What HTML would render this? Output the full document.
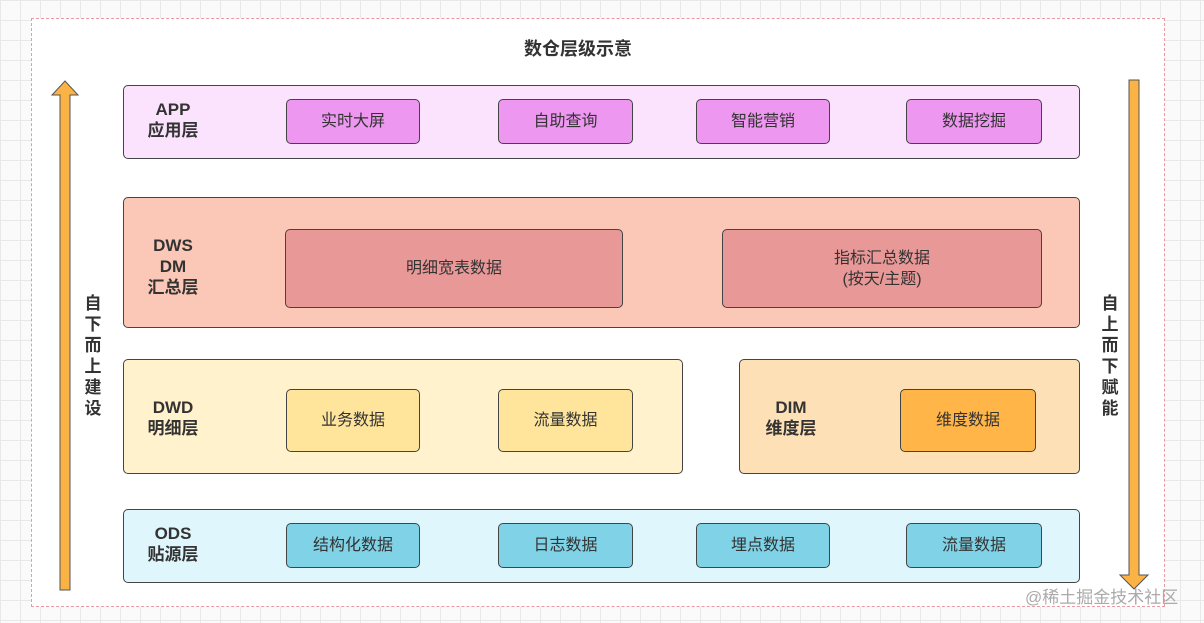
<!DOCTYPE html>
<html><head><meta charset="utf-8"><style>
*{margin:0;padding:0;box-sizing:border-box}
body{width:1204px;height:623px;position:relative;overflow:hidden;font-family:"Liberation Sans","Noto Sans CJK SC",sans-serif;color:#333;
background-color:#fafafa;background-image:linear-gradient(#e8e8e8 1px,transparent 1px),linear-gradient(90deg,#e8e8e8 1px,transparent 1px);background-size:20px 20px}
.a{position:absolute}
.frame{left:31px;top:18px;width:1134px;height:589px;background:#fff;border:1px dashed #e89aa3}
.layer{position:absolute;border:1.5px solid #444;border-radius:5px}
.box{position:absolute;border:1.5px solid #444;border-radius:5px;display:flex;align-items:center;justify-content:center;font-size:16px;text-align:center;line-height:21px;color:#333}
.lbl{position:absolute;font-size:17px;font-weight:bold;text-align:center;line-height:21px;color:#333;width:100px}
.vt{position:absolute;font-size:17px;font-weight:bold;width:20px;line-height:21px;text-align:center;color:#333}
</style></head><body>
<div class="a frame"></div>
<div class="a" style="left:478px;top:35px;width:200px;text-align:center;font-size:18px;font-weight:bold;color:#333">数仓层级示意</div>
<svg class="a" style="left:0;top:0" width="1204" height="623">
<path d="M60,95 L52,95 L65,81 L78,95 L70,95 L70,590 L60,590 Z" fill="#fbb345" stroke="#555" stroke-width="1"/>
<path d="M1129,80 L1139,80 L1139,575 L1148,575 L1134,589 L1120,575 L1129,575 Z" fill="#fbb345" stroke="#555" stroke-width="1"/>
</svg>
<div class="vt" style="left:83px;top:293px">自下而上建设</div>
<div class="vt" style="left:1100px;top:293px">自上而下赋能</div>

<div class="layer" style="left:123px;top:85px;width:957px;height:74px;background:#fce3fd"></div>
<div class="lbl" style="left:123px;top:99px">APP<br>应用层</div>
<div class="box" style="left:286px;top:99px;width:134px;height:45px;background:#ee97f1">实时大屏</div>
<div class="box" style="left:498px;top:99px;width:135px;height:45px;background:#ee97f1">自助查询</div>
<div class="box" style="left:696px;top:99px;width:134px;height:45px;background:#ee97f1">智能营销</div>
<div class="box" style="left:906px;top:99px;width:136px;height:45px;background:#ee97f1">数据挖掘</div>

<div class="layer" style="left:123px;top:197px;width:957px;height:131px;background:#fbc8b7"></div>
<div class="lbl" style="left:123px;top:235px">DWS<br>DM<br>汇总层</div>
<div class="box" style="left:285px;top:229px;width:338px;height:79px;background:#e99898">明细宽表数据</div>
<div class="box" style="left:722px;top:229px;width:320px;height:79px;background:#e99898">指标汇总数据<br>(按天/主题)</div>

<div class="layer" style="left:123px;top:359px;width:560px;height:115px;background:#fff2cc"></div>
<div class="lbl" style="left:123px;top:397px">DWD<br>明细层</div>
<div class="box" style="left:286px;top:389px;width:134px;height:63px;background:#ffe59b">业务数据</div>
<div class="box" style="left:498px;top:389px;width:135px;height:63px;background:#ffe59b">流量数据</div>

<div class="layer" style="left:739px;top:359px;width:341px;height:115px;background:#fde0b6"></div>
<div class="lbl" style="left:741px;top:397px">DIM<br>维度层</div>
<div class="box" style="left:900px;top:389px;width:136px;height:63px;background:#ffb547">维度数据</div>

<div class="layer" style="left:123px;top:509px;width:957px;height:74px;background:#dff6fd"></div>
<div class="lbl" style="left:123px;top:523px">ODS<br>贴源层</div>
<div class="box" style="left:286px;top:523px;width:134px;height:45px;background:#80d2e6">结构化数据</div>
<div class="box" style="left:498px;top:523px;width:135px;height:45px;background:#80d2e6">日志数据</div>
<div class="box" style="left:696px;top:523px;width:134px;height:45px;background:#80d2e6">埋点数据</div>
<div class="box" style="left:906px;top:523px;width:136px;height:45px;background:#80d2e6">流量数据</div>

<div class="a" style="left:1025px;top:583px;font-size:17px;color:#aaa">@稀土掘金技术社区</div>
</body></html>
